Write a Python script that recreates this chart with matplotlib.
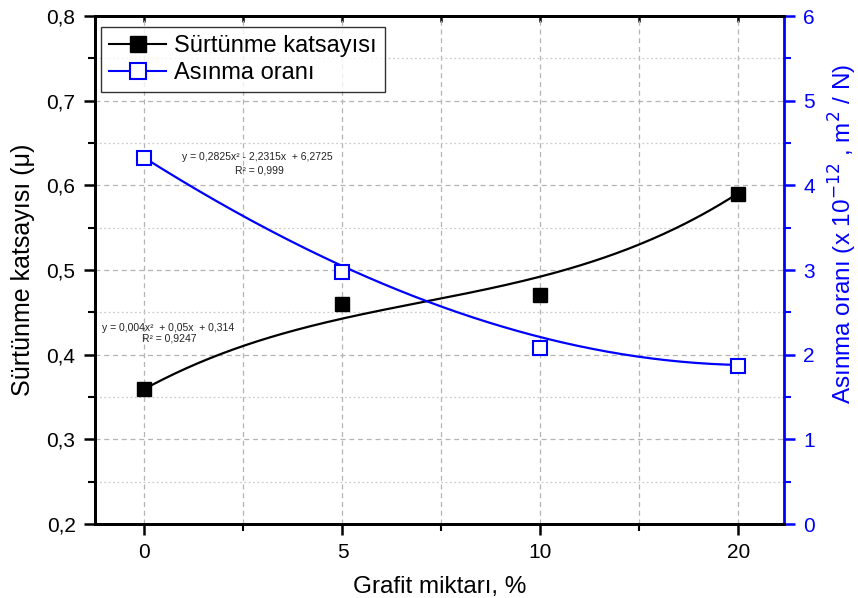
import numpy as np
import matplotlib
matplotlib.use("Agg")
import matplotlib.pyplot as plt
from matplotlib.lines import Line2D
from matplotlib.ticker import MultipleLocator

plt.rcParams['font.family'] = ['Liberation Sans', 'DejaVu Sans']

# data
grafit = ['0', '5', '10', '20']
surtunme = [0.36, 0.46, 0.47, 0.59]
asinma = [4.32, 2.98, 2.08, 1.87]

# trend curves (position index -> value)
trend_u = [0, 0.5, 1, 1.42, 2, 2.5, 3]
trend_surtunme = [0.36, 0.408, 0.446, 0.463, 0.488, 0.534, 0.59]
trend_asinma = [4.32, 3.645, 3.05, 2.63, 2.19, 2.0, 1.87]

eq_asinma = ['y = 0,2825x² - 2,2315x  + 6,2725', 'R² = 0,999']
eq_surtunme = ['y = 0,004x²  + 0,05x  + 0,314', 'R² = 0,9247']

blue = '#0000ff'
narrow = ['Liberation Sans Narrow', 'Liberation Sans']

fig = plt.figure(figsize=(8.58, 5.98), dpi=100)
ax = fig.add_axes([0.1107, 0.1237, 0.8031, 0.8495])
ax2 = ax.twinx()

x = np.arange(len(grafit))
xs = np.linspace(0, len(grafit) - 1, 200)

# fitted curves
c1 = np.polyfit(trend_u, trend_surtunme, 3)
c2 = np.polyfit(trend_u, trend_asinma, 3)
ax.plot(xs, np.polyval(c1, xs), color='black', lw=1.6, zorder=3)
ax2.plot(xs, np.polyval(c2, xs), color=blue, lw=1.6, zorder=3)

ax.plot(x, surtunme, ls='none', marker='s', ms=10.5, color='black', zorder=4)
ax2.plot(x, asinma, ls='none', marker='s', ms=10.5, mfc='white', mec=blue,
         mew=1.5, zorder=4)

ax.set_xlim(-0.25, 3.23)
ax.set_ylim(0.2, 0.8)
ax2.set_ylim(0, 6)
ax.set_xticks(x)
ax.set_xticklabels(grafit)
ax.xaxis.set_minor_locator(MultipleLocator(0.5))
ax.yaxis.set_major_locator(MultipleLocator(0.1))
ax.yaxis.set_minor_locator(MultipleLocator(0.05))
ax2.yaxis.set_major_locator(MultipleLocator(1))
ax2.yaxis.set_minor_locator(MultipleLocator(0.5))
ax.yaxis.set_major_formatter(lambda v, p: f'{v:.1f}'.replace('.', ','))

ax.grid(True, which='major', axis='both', color='#b4b4b4', ls=(0, (4, 3)), lw=0.9)
ax.grid(True, which='minor', axis='x', color='#b4b4b4', ls=(0, (4, 3)), lw=0.9)
ax.grid(True, which='minor', axis='y', color='#cccccc', ls=(0, (1.5, 2)), lw=0.9)
ax.set_axisbelow(True)

for s in ['left', 'bottom', 'top']:
    ax.spines[s].set_linewidth(2)
    ax2.spines[s].set_linewidth(2)
ax2.spines['right'].set_color(blue)
ax2.spines['right'].set_linewidth(2)

ax.tick_params(axis='both', which='major', direction='out', length=8, width=1.8,
               labelsize=15, pad=6)
ax.tick_params(axis='both', which='minor', direction='out', length=5, width=1.5)
ax2.tick_params(axis='y', which='major', direction='out', length=8, width=1.8,
                color=blue, labelcolor=blue, labelsize=15, pad=6)
ax2.tick_params(axis='y', which='minor', direction='out', length=5, width=1.5,
                color=blue)

# short inward ticks on the top axis
top = ax.secondary_xaxis('top')
top.set_xticks(x)
top.xaxis.set_minor_locator(MultipleLocator(0.5))
top.tick_params(which='both', direction='in', length=4, width=1.8, labeltop=False)
top.spines['top'].set_linewidth(2)

ax.set_xlabel('Grafit miktarı, %', fontsize=17.5, labelpad=10)
ax.set_ylabel('Sürtünme katsayısı (μ)', fontsize=18, labelpad=8)
ax2.set_ylabel('Asınma oranı (x 10$^{-12}$ , m$^{2}$ / N)', fontsize=17.5,
               color=blue)
ax2.yaxis.set_label_coords(1.062, 0.57)

ax.text(0.57, 0.633, eq_asinma[0], fontsize=7.5, ha='center', va='center',
        color='#222222', family=narrow)
ax.text(0.58, 0.618, eq_asinma[1], fontsize=7.5, ha='center', va='center',
        color='#222222', family=narrow)
ax.text(0.12, 0.432, eq_surtunme[0], fontsize=7.5, ha='center', va='center',
        color='#222222', family=narrow)
ax.text(0.125, 0.419, eq_surtunme[1], fontsize=7.5, ha='center', va='center',
        color='#222222', family=narrow)

handles = [
    Line2D([], [], color='black', lw=1.5, marker='s', ms=11, mfc='black'),
    Line2D([], [], color=blue, lw=1.5, marker='s', ms=11, mfc='white', mec=blue,
           mew=1.5),
]
leg = ax.legend(handles, ['Sürtünme katsayısı', 'Asınma oranı'],
                loc='upper left', bbox_to_anchor=(0.009, 0.978), borderaxespad=0,
                fontsize=17, frameon=True, fancybox=False, handlelength=2.4,
                handletextpad=0.35, borderpad=0.35, labelspacing=0.2)
leg.get_frame().set_edgecolor('black')
leg.get_frame().set_linewidth(1)
leg.set_zorder(10)

fig.savefig('out.png', dpi=100)
